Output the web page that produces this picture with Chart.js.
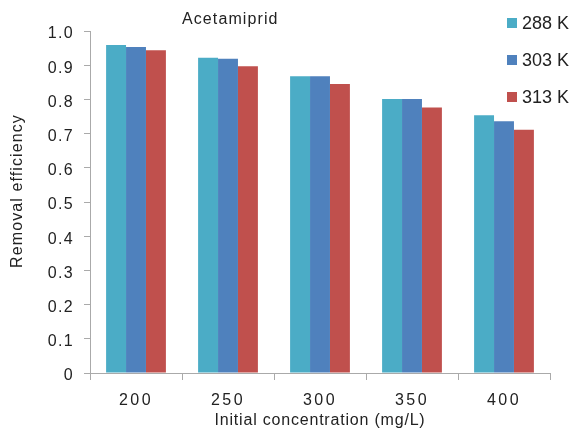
<!DOCTYPE html>
<html><head><meta charset="utf-8">
<script src="https://cdn.jsdelivr.net/npm/chart.js@4.4.0/dist/chart.umd.min.js"></script>
<style>html,body{margin:0;padding:0;background:#fff;}#wrap{width:573px;height:430px;position:relative;}</style>
</head><body><div id="wrap"><canvas id="c" width="573" height="430"></canvas></div>
<script>
const categories = ["200", "250", "300", "350", "400"];
const s288 = [0.959, 0.922, 0.868, 0.801, 0.754];
const s303 = [0.953, 0.919, 0.868, 0.801, 0.736];
const s313 = [0.944, 0.897, 0.845, 0.776, 0.711];
const seriesLabels = ["288 K", "303 K", "313 K"];
const seriesColors = ["#4BACC6", "#4F81BD", "#C0504D"];
const chartTitle = "Acetamiprid";
const xTitle = "Initial concentration (mg/L)";
const yTitle = "Removal efficiency";

const FONT = "'Liberation Sans', Arial, sans-serif";

function withSpacing(ctx, sp, fn) {
  const prev = ctx.letterSpacing;
  ctx.letterSpacing = sp;
  try { fn(); } finally { ctx.letterSpacing = prev || '0px'; }
}

const spacingPlugin = {
  id: 'spacing',
  beforeDraw(chart) {
    const ctx = chart.ctx;
    const cfg = { x: ['2.5px', '0.8px'], y: ['1.3px', '1.1px'] };
    Object.keys(cfg).forEach(k => {
      const s = chart.scales[k];
      if (!s || s._wrapped) return;
      s._wrapped = true;
      const dl = s.drawLabels.bind(s), dt = s.drawTitle.bind(s);
      s.drawLabels = a => withSpacing(ctx, cfg[k][0], () => dl(a));
      s.drawTitle = a => withSpacing(ctx, cfg[k][1], () => dt(a));
    });
  }
};

const overlay = {
  id: 'overlay',
  afterDraw(chart) {
    const ctx = chart.ctx;
    ctx.save();
    ctx.fillStyle = '#222';
    ctx.font = '16px ' + FONT;
    ctx.textBaseline = 'middle';
    ctx.textAlign = 'left';
    withSpacing(ctx, '1.1px', () => ctx.fillText(chartTitle, 182, 20));
    // y axis title
    ctx.save();
    ctx.translate(18, 191);
    ctx.rotate(-Math.PI / 2);
    ctx.textAlign = 'center';
    withSpacing(ctx, '1.1px', () => ctx.fillText(yTitle, 0, 0));
    ctx.restore();
    ctx.font = '18px ' + FONT;
    ctx.textAlign = 'left';
    chart.data.datasets.forEach((ds, i) => {
      const y = 23 + i * 37;
      ctx.fillStyle = ds.backgroundColor;
      ctx.fillRect(507, y - 5, 10, 10);
      ctx.fillStyle = '#222';
      ctx.fillText(ds.label, 522, y + 1);
    });
    ctx.restore();
  }
};

new Chart(document.getElementById('c'), {
  type: 'bar',
  data: {
    labels: categories,
    datasets: [s288, s303, s313].map((d, i) => ({
      label: seriesLabels[i],
      data: d,
      backgroundColor: seriesColors[i],
      borderWidth: 0,
      categoryPercentage: 0.65,
      barPercentage: 1.0
    }))
  },
  options: {
    responsive: false,
    animation: false,
    layout: { padding: { left: 0, right: 23, top: 31, bottom: 0 } },
    plugins: { legend: { display: false }, tooltip: { enabled: false } },
    scales: {
      x: {
        grid: { display: true, drawOnChartArea: false, drawTicks: true, tickLength: 7, color: '#aaa', offset: true },
        border: { color: '#aaa' },
        ticks: { color: '#222', font: { size: 16, family: FONT }, padding: 11 },
        title: { display: true, text: xTitle, color: '#222', font: { size: 16, family: FONT }, padding: { top: 0, bottom: 0 } },
        afterFit(s) { s.height = 57; }
      },
      y: {
        min: 0, max: 1.0,
        grid: { display: true, drawOnChartArea: false, drawTicks: true, tickLength: 6, color: '#aaa' },
        border: { color: '#aaa' },
        ticks: { stepSize: 0.1, color: '#222', font: { size: 16, family: FONT }, padding: 10, labelOffset: 3,
          callback: v => { const r = Math.round(v * 10) / 10; return r === 0 ? '0' : r.toFixed(1); } },
        title: { display: false },
        afterFit(s) { s.width = 90; }
      }
    }
  },
  plugins: [spacingPlugin, overlay]
});
</script></body></html>
